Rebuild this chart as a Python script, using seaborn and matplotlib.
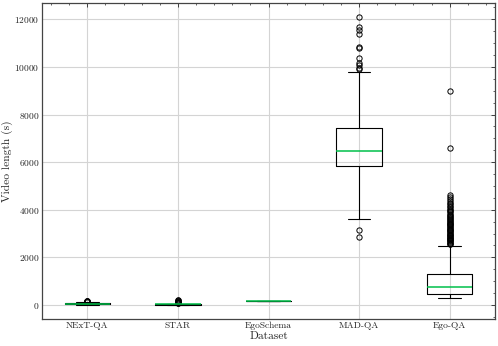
import numpy as np
import pandas as pd
import matplotlib
matplotlib.use("Agg")
import matplotlib.pyplot as plt
from matplotlib.ticker import MultipleLocator
import seaborn as sns

# ---- data ----
datasets = ["NExT-QA", "STAR", "EgoSchema", "MAD-QA", "Ego-QA"]

# box anchors per dataset: lower whisker end, Q1, median, Q3, upper whisker end
next_qa_box = [5, 25, 45, 65, 115]
star_box = [2, 14, 22, 32, 55]
egoschema_box = [180, 180, 180, 180, 180]
mad_qa_box = [3630, 5840, 6480, 7420, 9780]
ego_qa_box = [310, 480, 760, 1300, 2460]

# outliers per dataset
next_qa_out = [135, 150, 160, 170, 180]
star_out = [65, 80, 95, 110, 130, 150, 170, 190, 210]
egoschema_out = []
mad_qa_out = [2840, 3140, 9900, 9960, 10100, 10180, 10380, 10800, 10840,
              11370, 11570, 11680, 12120]
ego_qa_out = [2550, 2580, 2610, 2640, 2680, 2710, 2740, 2770, 2800, 2830,
              2860, 2900, 2930, 2960, 3000, 3030, 3060, 3100, 3130, 3170,
              3200, 3240, 3280, 3310, 3350, 3390, 3420, 3460, 3500, 3540,
              3580, 3620, 3660, 3700, 3750, 3790, 3840, 3890, 3940, 3990,
              4050, 4110, 4170, 4230, 4300, 4370, 4450, 4530, 4610, 6600, 9000]

# how many samples sit at each box anchor (whisker end, Q1, median, Q3, whisker end)
anchor_counts = [1, 200, 200, 200, 1]

boxes = [next_qa_box, star_box, egoschema_box, mad_qa_box, ego_qa_box]
outs = [next_qa_out, star_out, egoschema_out, mad_qa_out, ego_qa_out]

rows = []
for name, box, out in zip(datasets, boxes, outs):
    vals = list(np.repeat(box, anchor_counts)) + list(out)
    rows += [(name, v) for v in vals]
df = pd.DataFrame(rows, columns=["Dataset", "Video length (s)"])

# ---- style ----
sns.set_style("white")
plt.rcParams.update({
    "font.family": "serif",
    "font.serif": ["cmr10"],
    "mathtext.fontset": "cm",
    "axes.formatter.use_mathtext": True,
    "axes.unicode_minus": False,
    "xtick.direction": "in",
    "ytick.direction": "in",
    "xtick.top": True,
    "ytick.right": True,
    "xtick.minor.visible": True,
    "ytick.minor.visible": True,
    "xtick.major.size": 3,
    "ytick.major.size": 3,
    "xtick.minor.size": 1.5,
    "ytick.minor.size": 1.5,
    "xtick.major.width": 0.6,
    "ytick.major.width": 0.6,
    "xtick.minor.width": 0.5,
    "ytick.minor.width": 0.5,
    "axes.linewidth": 0.9,
    "axes.edgecolor": "#444444",
})

fig = plt.figure(figsize=(4.98, 3.46), dpi=100)
ax = fig.add_axes([42 / 498, 27 / 346, (495 - 42) / 498, (319 - 2.5) / 346])

sns.boxplot(
    data=df, x="Dataset", y="Video length (s)", order=datasets,
    width=0.5, fill=False, color="black", linewidth=0.8, whis=1.5,
    medianprops={"color": "#00C04A", "linewidth": 1.1},
    flierprops={"marker": "o", "markersize": 3.8, "markerfacecolor": "none",
                "markeredgecolor": "black", "markeredgewidth": 0.7},
    ax=ax,
)

ax.set_xlim(-0.5, 4.5)
ax.set_ylim(-590, 12710)
ax.yaxis.set_major_locator(MultipleLocator(2000))
ax.yaxis.set_minor_locator(MultipleLocator(500))
ax.xaxis.set_minor_locator(MultipleLocator(0.2))
ax.grid(True, which="major", color="#d4d4d4", linewidth=0.8)
ax.set_axisbelow(True)
ax.tick_params(axis="both", which="major", labelsize=6.8, pad=2)
ax.set_xlabel("Dataset", fontsize=8.3, labelpad=1)
ax.set_ylabel("Video length (s)", fontsize=8.3, labelpad=1)
for s in ax.spines.values():
    s.set_visible(True)

fig.savefig("out.png", dpi=100)
